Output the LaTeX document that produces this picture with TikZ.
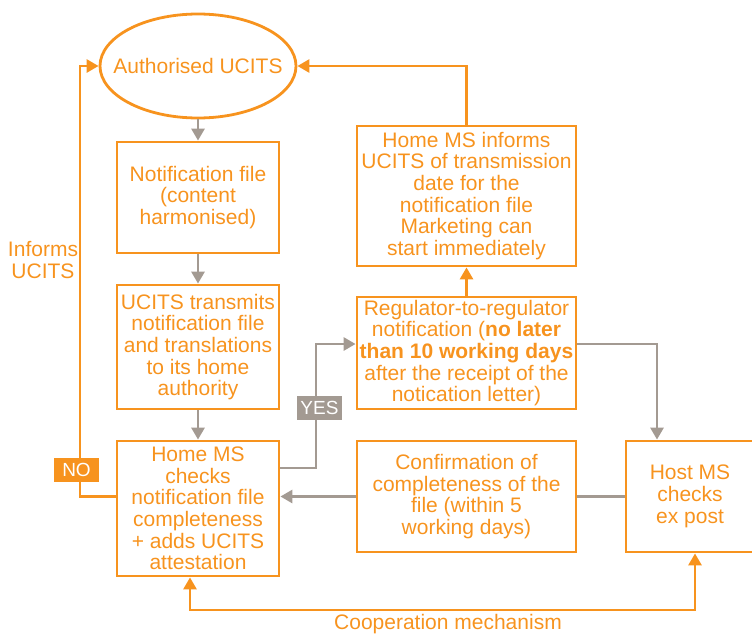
\documentclass[tikz,border=0pt]{standalone}
\usepackage{fontspec}
\setmainfont{Liberation Sans}
\usetikzlibrary{arrows.meta,shapes.geometric}
\definecolor{org}{HTML}{F7931E}
\definecolor{gry}{HTML}{A39A92}
\tikzset{
  txt/.style={font=\fontsize{21}{21.7}\selectfont, text=org},
  box/.style={txt, draw=org, line width=2.8pt, align=center, inner sep=0pt, rectangle},
  tip/.style={Triangle[length=12pt,width=13pt]},
  garrow/.style={draw=gry, line width=2.8pt, -{Triangle[length=12pt,width=13pt]}},
  gline/.style={draw=gry, line width=2.8pt},
  oarrow/.style={draw=org, line width=2.8pt, -{Triangle[length=12pt,width=13pt]}},
  tag/.style={font=\fontsize{19}{20}\selectfont, text=white, inner sep=0pt, minimum width=45pt, minimum height=24pt}
}
\begin{document}
\begin{tikzpicture}[x=1pt,y=-1pt]
\useasboundingbox (0,0) rectangle (752,635);
\clip (0,0) rectangle (752,635);
\node[ellipse, draw=org, line width=2.8pt, minimum width=196pt, minimum height=104pt, inner sep=0pt] (auth) at (198,66) {};
\node[txt] (authtxt) at (auth.center) {Authorised UCITS};
\node[box, minimum width=162pt, minimum height=111pt] (notif) at (198,197.5) {Notification file\\(content\\harmonised)};
\node[box, minimum width=162pt, minimum height=124pt] (trans) at (198,347) {UCITS transmits\\notification file\\and translations\\to its home\\authority};
\node[box, minimum width=162pt, minimum height=135pt] (check) at (198,508.5) {Home MS\\checks\\notification file\\completeness\\+ adds UCITS\\attestation};
\node[box, minimum width=219pt, minimum height=140pt] (inform) at (466.5,196) {Home MS informs\\UCITS of transmission\\date for the\\notification file\\Marketing can\\start immediately};
\node[box, minimum width=219pt, minimum height=112pt] (reg) at (466.5,353) {Regulator-to-regulator\\notification (\textbf{no later}\\\textbf{than 10 working days}\\after the receipt of the\\notication letter)};
\node[box, minimum width=219pt, minimum height=111pt] (conf) at (466.5,496.5) {Confirmation of\\completeness of the\\file (within 5\\working days)};
\node[box, minimum width=128pt, minimum height=111pt] (host) at (690,496.5) {Host MS\\checks\\ex post};

\draw[garrow] (auth.south) -- (notif.north);
\draw[garrow] (notif.south) -- (trans.north);
\draw[garrow] (trans.south) -- (check.north);

\coordinate (nocorner1) at (80,496.5);
\coordinate (nocorner2) at (80,66);
\draw[oarrow] (check.west |- conf.center) -- (nocorner1) -- (nocorner2) -- (auth.west);
\node[tag, fill=org] (no) at (76.5,470) {NO};
\node[txt, align=center] (informsucits) at (43,260) {Informs\\UCITS};

\draw[oarrow] (inform.north) -- (inform.north |- auth.east) -- (auth.east);
\draw[oarrow] (reg.north) -- (inform.south);

\coordinate (yes1) at (316,468);
\coordinate (yes2) at (316,344);
\draw[garrow] ([yshift=40.5pt]check.east) -- (yes1) -- (yes2) -- ([yshift=9pt]reg.west);
\node[tag, fill=gry] (yes) at (319.5,408) {YES};

\coordinate (hc) at (657,344);
\draw[garrow] ([yshift=9pt]reg.east) -- (hc) -- ([xshift=-33pt]host.north);

\draw[gline] (host.west) -- (conf.east);
\draw[garrow] (conf.west) -- (check.east |- conf.west);

\coordinate (c1) at (190,610);
\coordinate (c2) at (695,610);
\draw[draw=org, line width=2.8pt, {Triangle[length=12pt,width=13pt]}-{Triangle[length=12pt,width=13pt]}] ([xshift=-8pt]check.south) -- (c1) -- (c2) -- ([xshift=5pt]host.south);
\node[txt] (coop) at (448,624) {Cooperation mechanism};
\end{tikzpicture}
\end{document}
